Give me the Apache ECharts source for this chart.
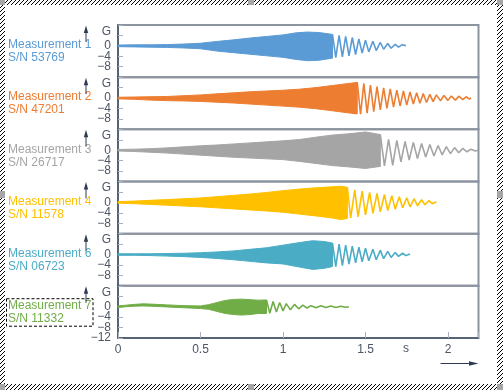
<!DOCTYPE html>
<html><head><meta charset="utf-8">
<script src="https://cdn.jsdelivr.net/npm/echarts@6/dist/echarts.min.js"></script>
<style>html,body{margin:0;padding:0;background:#fff}#c{width:503px;height:390px}</style>
</head><body><div id="c"></div>
<script>
// ---------- data ----------
const names = ['Measurement 1','Measurement 2','Measurement 3','Measurement 4','Measurement 6','Measurement 7'];
const serials = ['S/N 53769','S/N 47201','S/N 26717','S/N 11578','S/N 06723','S/N 11332'];
const colors = ['#5b9bd5','#ed7d31','#a5a5a5','#ffc000','#4bacc6','#70ad47'];
const xTicks = [0, 0.5, 1, 1.5, 2];
const yTickValues = [4, 0, -4, -8];
const yTickLabels = ['G', '0', '\u22124', '\u22128'];
const yBottomValue = -12;
const yBottomLabel = '\u221212';
const xUnit = 's';

// dense part: envelope (upper / lower) of the oscillation
const env1T  = [0,0.1,0.2,0.3,0.4,0.5,0.6,0.7,0.8,0.9,1.0,1.08,1.15,1.22,1.3];
const env1Up = [0.3,0.4,0.4,0.5,0.7,1.0,1.7,2.3,3.0,3.6,4.2,5.0,5.3,5.1,4.4];
const env1Lo = [-0.3,-0.4,-0.5,-0.6,-0.8,-1.1,-2.0,-2.6,-3.2,-3.8,-4.4,-5.2,-5.7,-5.5,-4.7];
const tail1T = [1.3,1.32,1.34,1.36,1.38,1.40,1.42,1.44,1.46,1.48,1.50,1.52,1.545,1.565,1.59,1.61,1.635,1.655,1.68,1.70,1.72,1.745];
const tail1V = [4.4,-4.5,4.0,-4.2,3.6,-3.8,3.2,-3.3,2.7,-2.8,2.2,-2.3,1.8,-1.8,1.3,-1.3,0.9,-0.9,0.6,-0.5,0.4,0.1];

const env2T  = [0,0.1,0.2,0.3,0.4,0.5,0.6,0.7,0.8,0.9,1.0,1.1,1.2,1.3,1.4,1.45];
const env2Up = [0.3,0.4,0.5,0.6,0.9,1.2,1.6,2.0,2.4,2.7,3.0,3.4,4.0,4.8,5.6,6.0];
const env2Lo = [-0.3,-0.5,-0.8,-1.0,-1.1,-1.3,-1.6,-1.9,-2.3,-2.7,-3.1,-3.5,-4.1,-4.9,-5.7,-6.1];
const tail2T = [1.45,1.47,1.49,1.51,1.53,1.55,1.57,1.59,1.61,1.63,1.65,1.67,1.69,1.71,1.73,1.75,1.77,1.79,1.81,1.83,1.85,1.87,1.89,1.91,1.93,1.955,1.975,2.0,2.02,2.045,2.065,2.09,2.11,2.13,2.14];
const tail2V = [6.0,-6.2,5.6,-5.8,5.0,-5.2,4.4,-4.5,3.9,-4.0,3.5,-3.5,3.0,-3.1,2.7,-2.7,2.3,-2.3,2.0,-2.0,1.7,-1.7,1.4,-1.4,1.2,-1.1,1.0,-0.9,0.8,-0.8,0.7,-0.6,0.5,-0.4,0.1];

const env3T  = [0,0.1,0.2,0.3,0.4,0.5,0.6,0.7,0.8,0.9,1.0,1.1,1.2,1.3,1.4,1.5,1.59];
const env3Up = [0.3,0.4,0.6,0.9,1.3,1.7,2.0,2.4,2.8,3.2,3.6,4.1,5.0,5.8,6.3,7.0,6.0];
const env3Lo = [-0.3,-0.5,-0.8,-1.1,-1.5,-1.9,-2.3,-2.7,-3.0,-3.3,-3.6,-4.3,-5.1,-5.9,-6.4,-7.0,-6.2];
const tail3T = [1.59,1.615,1.64,1.665,1.69,1.715,1.74,1.765,1.79,1.815,1.84,1.865,1.89,1.915,1.94,1.965,1.99,2.015,2.04,2.065,2.09,2.115,2.14,2.165,2.185];
const tail3V = [6.0,-6.0,4.2,-5.8,3.8,-4.5,3.4,-3.8,3.0,-3.2,2.6,-2.6,2.2,-2.2,1.8,-1.8,1.4,-1.3,1.0,-1.0,0.7,-0.6,0.4,-0.3,0.1];

const env4T  = [0,0.1,0.2,0.3,0.4,0.5,0.6,0.7,0.8,0.9,1.0,1.1,1.2,1.3,1.35,1.39];
const env4Up = [0.3,0.5,0.8,1.1,1.4,1.7,2.2,2.7,3.2,3.8,4.5,5.1,5.6,6.0,6.2,5.8];
const env4Lo = [-0.3,-0.5,-0.8,-1.1,-1.4,-1.7,-2.1,-2.5,-2.9,-3.3,-3.8,-4.5,-5.2,-6.0,-6.6,-6.2];
const tail4T = [1.39,1.41,1.435,1.455,1.48,1.50,1.525,1.545,1.57,1.59,1.615,1.635,1.66,1.68,1.705,1.725,1.75,1.77,1.795,1.815,1.84,1.86,1.885,1.905,1.93];
const tail4V = [5.8,-6.0,4.8,-5.6,4.3,-4.8,3.8,-4.2,3.4,-3.6,3.0,-3.1,2.6,-2.6,2.2,-2.1,1.8,-1.7,1.4,-1.3,1.0,-0.9,0.7,-0.5,0.2];

const env5T  = [0,0.1,0.2,0.3,0.4,0.5,0.6,0.7,0.8,0.9,1.0,1.1,1.18,1.25,1.3];
const env5Up = [0.3,0.3,0.3,0.4,0.5,0.7,1.0,1.4,2.0,2.6,3.6,4.6,5.3,5.0,4.4];
const env5Lo = [-0.3,-0.3,-0.4,-0.6,-0.8,-1.1,-1.5,-2.0,-2.6,-3.2,-3.6,-4.8,-5.7,-5.3,-4.6];
const tail5T = [1.3,1.32,1.34,1.36,1.38,1.40,1.42,1.44,1.46,1.48,1.50,1.52,1.545,1.565,1.59,1.61,1.635,1.655,1.68,1.70,1.725,1.745,1.77];
const tail5V = [4.4,-4.6,4.0,-4.2,3.6,-3.7,3.2,-3.2,2.8,-2.8,2.4,-2.4,2.0,-2.0,1.6,-1.6,1.2,-1.1,0.8,-0.7,0.5,-0.4,0.2];

const env6T  = [0,0.05,0.1,0.15,0.2,0.3,0.4,0.5,0.55,0.6,0.65,0.7,0.75,0.8,0.85,0.9];
const env6Up = [0.3,0.6,0.9,1.1,1.0,0.7,0.4,0.3,0.8,1.6,2.4,2.8,2.9,2.7,2.5,2.6];
const env6Lo = [-0.3,0.0,0.2,0.3,0.2,-0.1,-0.4,-0.7,-1.0,-1.8,-2.6,-3.0,-3.2,-3.0,-2.6,-2.6];
const tail6T = [0.9,0.92,0.94,0.96,0.98,1.0,1.02,1.045,1.07,1.095,1.12,1.145,1.17,1.20,1.23,1.26,1.29,1.32,1.35,1.38,1.40];
const tail6V = [2.6,-2.5,2.0,-2.0,1.6,-1.6,1.2,-1.2,0.9,-0.8,0.6,-0.5,0.4,-0.4,0.4,-0.3,0.3,-0.3,0.2,-0.2,0.0];

// ---------- layout ----------
const envs = [
  [env1T, env1Up, env1Lo, tail1T, tail1V],
  [env2T, env2Up, env2Lo, tail2T, tail2V],
  [env3T, env3Up, env3Lo, tail3T, tail3V],
  [env4T, env4Up, env4Lo, tail4T, tail4V],
  [env5T, env5Up, env5Lo, tail5T, tail5V],
  [env6T, env6Up, env6Lo, tail6T, tail6V]
];
const W = 503, Hh = 390;
const gLeft = 118, gRight = 503 - 478.5, gTop = 25, pH = 52.17;
const yMin = -12, yMax = 8, xMax = 2.185;
const font = 'Liberation Sans, Arial, sans-serif';
const labelColor = '#4d5563';
const navy = '#2f3b52';

const chart = echarts.init(document.getElementById('c'), null, {renderer: 'canvas'});

const grids = [], xAxes = [], yAxes = [], series = [];
for (let i = 0; i < 6; i++) {
  const last = i === 5;
  grids.push({left: gLeft, right: gRight, top: gTop + i * pH, height: pH, show: true,
    borderColor: '#8c949f', borderWidth: 2, backgroundColor: 'transparent'});
  xAxes.push({gridIndex: i, type: 'value', min: 0, max: xMax, interval: 0.5, position: 'bottom',
    axisLine: {show: last, onZero: false, lineStyle: {color: '#44546a', width: 1.5}},
    axisTick: {show: last, inside: true, length: 6, lineStyle: {color: '#a6b2c2'}},
    splitLine: {show: false},
    axisLabel: {show: last, color: labelColor, fontSize: 12, fontFamily: font, margin: 6,
      formatter: v => { const k = xTicks.findIndex(t => Math.abs(t - v) < 1e-6); return k < 0 ? '' : String(xTicks[k]); }}
  });
  yAxes.push({gridIndex: i, type: 'value', min: yMin, max: yMax, interval: 4,
    axisLine: {show: true, onZero: false, lineStyle: {color: '#44546a', width: 1.5}},
    axisTick: {show: true, inside: true, length: 5, lineStyle: {color: '#a6b2c2'}},
    splitLine: {show: false},
    axisLabel: {color: labelColor, fontSize: 12, fontFamily: font, margin: 7,
      rich: {g: {color: labelColor, fontSize: 12, fontFamily: font, padding: [0, 0, 8, 0]}},
      formatter: v => {
        const k = yTickValues.findIndex(t => Math.abs(t - v) < 1e-6);
        if (k < 0) return '';
        if (k === 0) return '{g|' + yTickLabels[k] + '}';
        return yTickLabels[k];
      }}
  });
  const [eT, eU, eL, tT, tV] = envs[i];
  const c = colors[i];
  series.push({type: 'custom', xAxisIndex: i, yAxisIndex: i, silent: true, data: [[0, 0]],
    renderItem: (params, api) => {
      const pts = [];
      for (let k = 0; k < eT.length; k++) pts.push(api.coord([eT[k], eU[k]]));
      for (let k = eT.length - 1; k >= 0; k--) pts.push(api.coord([eT[k], eL[k]]));
      return {type: 'polygon', shape: {points: pts}, style: {fill: c, stroke: c, lineWidth: 1}};
    }});
  series.push({type: 'line', xAxisIndex: i, yAxisIndex: i, silent: true, showSymbol: false,
    data: tT.map((t, k) => [t, tV[k]]), lineStyle: {color: c, width: 1.6}});
}
// extra label-only axis for the bottom value of the last panel
yAxes.push({gridIndex: 5, type: 'value', min: yMin, max: yMax, interval: 20, position: 'left', offset: 0,
  axisLine: {show: false}, axisTick: {show: false}, splitLine: {show: false},
  axisLabel: {color: labelColor, fontSize: 12, fontFamily: font, margin: 7,
    formatter: v => Math.abs(v - yBottomValue) < 1e-6 ? yBottomLabel : ''}});

// hatch pattern for outer frame
const pc = document.createElement('canvas'); pc.width = 4; pc.height = 4;
const pg = pc.getContext('2d'); pg.fillStyle = '#fff'; pg.fillRect(0, 0, 4, 4);
pg.fillStyle = '#000'; for (let k = 0; k < 4; k++) pg.fillRect(k, 3 - k, 1, 1);
const hatch = {type: 'pattern', image: pc, repeat: 'repeat'};

const graphics = [];
for (let i = 0; i < 6; i++) {
  const top = gTop + i * pH;
  const zeroY = top + pH * (yMax / (yMax - yMin));
  graphics.push({type: 'text', left: 8, top: zeroY - 7, style: {text: names[i], fill: colors[i], font: '12px ' + font}});
  graphics.push({type: 'text', left: 8, top: zeroY + 6, style: {text: serials[i], fill: colors[i], font: '12px ' + font}});
  graphics.push({type: 'line', shape: {x1: 86, y1: top + 4, x2: 86, y2: top + 17}, style: {stroke: navy, lineWidth: 1}});
  graphics.push({type: 'polygon', shape: {points: [[86, top + 0.5], [83.8, top + 8], [88.2, top + 8]]}, style: {fill: navy}});
}
// dashed box around last label
const lastZero = gTop + 5 * pH + pH * 0.4;
graphics.push({type: 'rect', shape: {x: 6.5, y: lastZero - 8, width: 86.5, height: 27.5}, style: {fill: 'none', stroke: '#000', lineWidth: 1, lineDash: [3, 2]}});
// unit + arrow on x axis
graphics.push({type: 'text', left: 403, top: 343, style: {text: xUnit, fill: labelColor, font: '12px ' + font}});
graphics.push({type: 'line', shape: {x1: 440.5, y1: 363.5, x2: 472, y2: 363.5}, style: {stroke: navy, lineWidth: 1}});
graphics.push({type: 'polygon', shape: {points: [[478.5, 363.5], [469, 361.3], [469, 365.7]]}, style: {fill: navy}});
// outer hatched selection frame
graphics.push({type: 'rect', shape: {x: 0, y: 0, width: W, height: 5}, style: {fill: hatch}});
graphics.push({type: 'rect', shape: {x: 0, y: 0, width: 5, height: Hh}, style: {fill: hatch}});
graphics.push({type: 'rect', shape: {x: 497, y: 0, width: 6, height: Hh}, style: {fill: hatch}});
graphics.push({type: 'rect', shape: {x: 0, y: 384, width: W, height: 6}, style: {fill: hatch}});
const handles = [[0, 0, 5, 5], [248, 0, 6, 5], [497, 0, 6, 5], [0, 191, 5, 7], [497, 191, 6, 7], [0, 384, 5, 6], [248, 384, 6, 6], [497, 384, 6, 6]];
handles.forEach(h => graphics.push({type: 'rect', shape: {x: h[0], y: h[1], width: h[2], height: h[3]}, style: {fill: '#a6a6a6'}}));

chart.setOption({
  animation: false,
  grid: grids, xAxis: xAxes, yAxis: yAxes, series: series,
  graphic: {elements: graphics}
});
</script></body></html>
